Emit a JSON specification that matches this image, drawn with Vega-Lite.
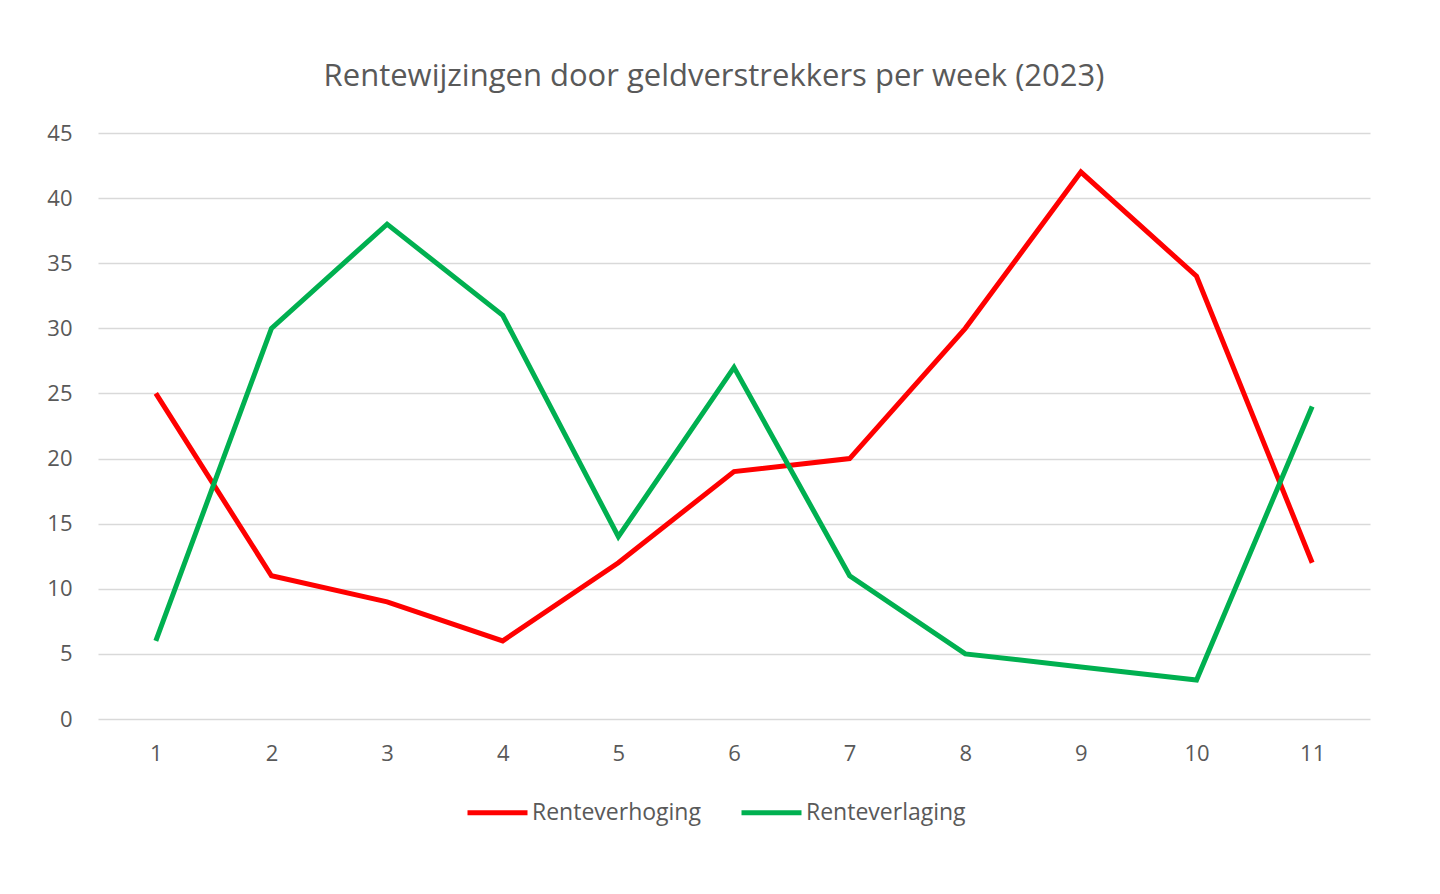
{
  "$schema": "https://vega.github.io/schema/vega-lite/v6.json",
  "width": 1272,
  "height": 586,
  "autosize": {"type": "none"},
  "padding": {"left": 98, "top": 133, "right": 70, "bottom": 175},
  "background": "white",
  "title": {
    "text": "Rentewijzingen door geldverstrekkers per week (2023)",
    "font": "Open Sans",
    "fontSize": 31,
    "fontWeight": "normal",
    "color": "#595959",
    "anchor": "middle",
    "dx": -20,
    "offset": 29
  },
  "data": {
    "values": [
      {"week": 1, "reeks": "Renteverhoging", "aantal": 25},
      {"week": 2, "reeks": "Renteverhoging", "aantal": 11},
      {"week": 3, "reeks": "Renteverhoging", "aantal": 9},
      {"week": 4, "reeks": "Renteverhoging", "aantal": 6},
      {"week": 5, "reeks": "Renteverhoging", "aantal": 12},
      {"week": 6, "reeks": "Renteverhoging", "aantal": 19},
      {"week": 7, "reeks": "Renteverhoging", "aantal": 20},
      {"week": 8, "reeks": "Renteverhoging", "aantal": 30},
      {"week": 9, "reeks": "Renteverhoging", "aantal": 42},
      {"week": 10, "reeks": "Renteverhoging", "aantal": 34},
      {"week": 11, "reeks": "Renteverhoging", "aantal": 12},
      {"week": 1, "reeks": "Renteverlaging", "aantal": 6},
      {"week": 2, "reeks": "Renteverlaging", "aantal": 30},
      {"week": 3, "reeks": "Renteverlaging", "aantal": 38},
      {"week": 4, "reeks": "Renteverlaging", "aantal": 31},
      {"week": 5, "reeks": "Renteverlaging", "aantal": 14},
      {"week": 6, "reeks": "Renteverlaging", "aantal": 27},
      {"week": 7, "reeks": "Renteverlaging", "aantal": 11},
      {"week": 8, "reeks": "Renteverlaging", "aantal": 5},
      {"week": 9, "reeks": "Renteverlaging", "aantal": 4},
      {"week": 10, "reeks": "Renteverlaging", "aantal": 3},
      {"week": 11, "reeks": "Renteverlaging", "aantal": 24}
    ]
  },
  "mark": {"type": "line", "strokeWidth": 5, "strokeJoin": "miter", "strokeCap": "butt"},
  "encoding": {
    "x": {
      "field": "week",
      "type": "ordinal",
      "scale": {"type": "point", "padding": 0.5},
      "axis": {
        "title": null,
        "labelAngle": 0,
        "labelFont": "Open Sans",
        "labelFontSize": 22,
        "labelColor": "#595959",
        "labelPadding": 24,
        "ticks": false,
        "domain": false,
        "grid": false
      }
    },
    "y": {
      "field": "aantal",
      "type": "quantitative",
      "scale": {"domain": [0, 45]},
      "axis": {
        "title": null,
        "values": [0, 5, 10, 15, 20, 25, 30, 35, 40, 45],
        "labelFont": "Open Sans",
        "labelFontSize": 22,
        "labelColor": "#595959",
        "labelPadding": 26,
        "ticks": false,
        "domain": false,
        "grid": true,
        "gridColor": "#d9d9d9",
        "gridWidth": 1.5
      }
    },
    "color": {
      "field": "reeks",
      "type": "nominal",
      "scale": {"domain": ["Renteverhoging", "Renteverlaging"], "range": ["#ff0000", "#00b050"]},
      "legend": {
        "title": null,
        "orient": "none",
        "legendX": 367,
        "legendY": 647,
        "direction": "horizontal",
        "symbolType": "stroke",
        "symbolSize": 3600,
        "symbolStrokeWidth": 5,
        "labelFont": "Open Sans",
        "labelFontSize": 23,
        "labelLimit": 400,
        "labelColor": "#595959",
        "labelOffset": 2,
        "columnPadding": 30
      }
    }
  },
  "config": {"view": {"stroke": null}}
}
